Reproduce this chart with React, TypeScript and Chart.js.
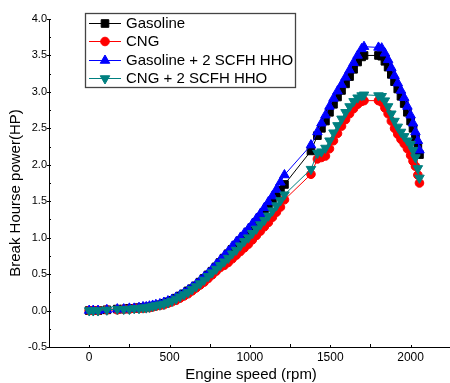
import React, { useEffect, useRef } from "react";
import { Chart, registerables } from "chart.js";

Chart.register(...registerables);

const FONT = "'Liberation Sans', Arial, Helvetica, sans-serif";

const rpm = [0, 25, 55, 110, 175, 215, 250, 280, 310, 335, 355, 375, 395, 415, 440, 465, 490, 515, 540, 565, 590, 615, 640, 665, 690, 715, 740, 765, 790, 815, 840, 865, 890, 915, 940, 965, 990, 1015, 1040, 1065, 1090, 1115, 1140, 1165, 1190, 1215, 1380, 1420, 1445, 1470, 1495, 1520, 1545, 1570, 1595, 1620, 1645, 1670, 1695, 1710, 1800, 1820, 1840, 1860, 1880, 1900, 1920, 1940, 1960, 1980, 2000, 2015, 2030, 2045, 2055];

const gasoline = [0, 0, 0, 0.01, 0.02, 0.02, 0.03, 0.03, 0.04, 0.04, 0.05, 0.05, 0.06, 0.07, 0.08, 0.10, 0.12, 0.14, 0.17, 0.20, 0.23, 0.27, 0.30, 0.34, 0.39, 0.44, 0.49, 0.54, 0.60, 0.66, 0.72, 0.78, 0.84, 0.90, 0.96, 1.02, 1.08, 1.14, 1.21, 1.28, 1.35, 1.42, 1.50, 1.58, 1.65, 1.73, 2.19, 2.40, 2.50, 2.60, 2.72, 2.83, 2.93, 3.02, 3.11, 3.21, 3.31, 3.41, 3.48, 3.50, 3.50, 3.49, 3.42, 3.34, 3.24, 3.14, 3.04, 2.94, 2.84, 2.72, 2.60, 2.50, 2.38, 2.26, 2.14];

const cng = [0, 0, 0, 0.01, 0.01, 0.02, 0.02, 0.03, 0.03, 0.03, 0.04, 0.04, 0.05, 0.06, 0.07, 0.08, 0.10, 0.12, 0.14, 0.17, 0.20, 0.23, 0.27, 0.31, 0.35, 0.39, 0.44, 0.49, 0.54, 0.59, 0.62, 0.66, 0.71, 0.76, 0.81, 0.86, 0.91, 0.97, 1.03, 1.09, 1.15, 1.21, 1.28, 1.35, 1.42, 1.52, 1.87, 2.08, 2.10, 2.12, 2.22, 2.33, 2.43, 2.53, 2.62, 2.70, 2.77, 2.83, 2.87, 2.88, 2.88, 2.86, 2.78, 2.70, 2.60, 2.50, 2.42, 2.35, 2.29, 2.22, 2.13, 2.05, 1.98, 1.86, 1.75];

const gasolineHHO = [0, 0, 0, 0.01, 0.02, 0.02, 0.03, 0.03, 0.04, 0.05, 0.05, 0.06, 0.07, 0.08, 0.09, 0.11, 0.13, 0.15, 0.18, 0.21, 0.24, 0.28, 0.32, 0.36, 0.41, 0.46, 0.51, 0.57, 0.63, 0.69, 0.75, 0.81, 0.88, 0.94, 1.00, 1.06, 1.12, 1.19, 1.26, 1.33, 1.41, 1.49, 1.57, 1.66, 1.76, 1.86, 2.27, 2.45, 2.57, 2.68, 2.80, 2.91, 3.01, 3.10, 3.20, 3.30, 3.40, 3.50, 3.59, 3.62, 3.61, 3.60, 3.53, 3.44, 3.33, 3.22, 3.12, 3.02, 2.92, 2.80, 2.68, 2.57, 2.45, 2.33, 2.20];

const cngHHO = [0, 0, 0, 0.01, 0.02, 0.02, 0.02, 0.03, 0.03, 0.04, 0.04, 0.05, 0.06, 0.07, 0.08, 0.09, 0.11, 0.13, 0.16, 0.19, 0.22, 0.25, 0.29, 0.33, 0.37, 0.42, 0.47, 0.52, 0.57, 0.62, 0.67, 0.72, 0.78, 0.83, 0.89, 0.95, 1.00, 1.06, 1.12, 1.18, 1.24, 1.30, 1.37, 1.44, 1.51, 1.59, 1.94, 2.16, 2.18, 2.23, 2.33, 2.44, 2.54, 2.63, 2.72, 2.80, 2.87, 2.92, 2.95, 2.96, 2.95, 2.94, 2.88, 2.80, 2.70, 2.60, 2.52, 2.45, 2.39, 2.33, 2.28, 2.20, 2.10, 1.95, 1.82];

const seriesLabels = ["Gasoline", "CNG", "Gasoline + 2 SCFH HHO", "CNG + 2 SCFH HHO"];
const seriesColors = ["#000000", "#FF0000", "#0000FF", "#008080"];
const seriesMarkers = ["rect", "circle", "triangle", "triangleDown"];
const seriesValues = [gasoline, cng, gasolineHHO, cngHHO];

const xTicks = [0, 500, 1000, 1500, 2000];
const yTicks = [-0.5, 0.0, 0.5, 1.0, 1.5, 2.0, 2.5, 3.0, 3.5, 4.0];
const xTitle = "Engine speed (rpm)";
const yTitle = "Break Hourse power(HP)";

function drawMarker(ctx: CanvasRenderingContext2D, kind: string, x: number, y: number, color: string) {
  ctx.save();
  ctx.fillStyle = color;
  ctx.strokeStyle = color;
  ctx.lineWidth = 1;
  ctx.beginPath();
  if (kind === "rect") {
    ctx.rect(x - 3.8, y - 3.8, 7.6, 7.6);
  } else if (kind === "circle") {
    ctx.arc(x, y, 4.3, 0, Math.PI * 2);
  } else if (kind === "triangle") {
    ctx.moveTo(x, y - 5.5);
    ctx.lineTo(x + 4.76, y + 2.75);
    ctx.lineTo(x - 4.76, y + 2.75);
    ctx.closePath();
  } else {
    ctx.moveTo(x, y + 5.5);
    ctx.lineTo(x + 4.76, y - 2.75);
    ctx.lineTo(x - 4.76, y - 2.75);
    ctx.closePath();
  }
  ctx.fill();
  ctx.stroke();
  ctx.restore();
}

const decorPlugin = {
  id: "decor",
  afterDraw(chart: any) {
    const ctx: CanvasRenderingContext2D = chart.ctx;
    const xs = chart.scales.x;
    const ys = chart.scales.y;
    const area = chart.chartArea;
    ctx.save();
    ctx.strokeStyle = "#000";
    ctx.lineWidth = 1;
    ctx.beginPath();
    for (let i = 0; i < yTicks.length; i++) {
      const py = Math.round(ys.getPixelForValue(yTicks[i])) + 0.5;
      ctx.moveTo(area.left - 2, py);
      ctx.lineTo(area.left + 2, py);
      if (i < yTicks.length - 1) {
        const my = Math.round(ys.getPixelForValue((yTicks[i] + yTicks[i + 1]) / 2)) + 0.5;
        ctx.moveTo(area.left, my);
        ctx.lineTo(area.left + 2, my);
      }
    }
    for (let i = 0; i < xTicks.length; i++) {
      const px = Math.round(xs.getPixelForValue(xTicks[i])) + 0.5;
      ctx.moveTo(px, area.bottom);
      ctx.lineTo(px, area.bottom - 2);
      const mv = xTicks[i] + 250;
      const mx = Math.round(xs.getPixelForValue(mv)) + 0.5;
      if (mx < area.right) {
        ctx.moveTo(mx, area.bottom);
        ctx.lineTo(mx, area.bottom - 3);
      }
    }
    ctx.stroke();

    ctx.fillStyle = "#000";
    ctx.font = `15px ${FONT}`;
    ctx.textAlign = "center";
    ctx.textBaseline = "middle";
    ctx.fillText(xTitle, 251, 375);
    ctx.save();
    ctx.translate(16, 193);
    ctx.rotate(-Math.PI / 2);
    ctx.fillText(yTitle, 0, 0);
    ctx.restore();

    ctx.fillStyle = "#fff";
    ctx.fillRect(85.5, 13.5, 210, 74);
    ctx.strokeStyle = "#444";
    ctx.lineWidth = 1.3;
    ctx.strokeRect(85.5, 13.5, 210, 74);
    const rowsY = [23, 41, 60, 78];
    ctx.textAlign = "left";
    ctx.font = `15px ${FONT}`;
    for (let i = 0; i < seriesLabels.length; i++) {
      const y = rowsY[i];
      ctx.strokeStyle = seriesColors[i];
      ctx.lineWidth = 1;
      ctx.beginPath();
      ctx.moveTo(89, y + 0.5);
      ctx.lineTo(121, y + 0.5);
      ctx.stroke();
      drawMarker(ctx, seriesMarkers[i], 105, y + 0.5, seriesColors[i]);
      ctx.fillStyle = "#000";
      ctx.fillText(seriesLabels[i], 126, y + 1);
    }
    ctx.restore();
  },
};

export default function App() {
  const canvasRef = useRef<HTMLCanvasElement | null>(null);

  useEffect(() => {
    const canvas = canvasRef.current;
    if (!canvas) return;
    Chart.defaults.font.family = FONT;
    const order = [3, 2, 1, 0];
    const datasets = seriesLabels.map((label, i) => {
      const kind = seriesMarkers[i];
      const pointStyle = kind === "rect" ? "rect" : kind === "circle" ? "circle" : "triangle";
      const radius = kind === "rect" ? 5.4 : kind === "circle" ? 4.3 : 5.5;
      return {
        label,
        data: rpm.map((x, j) => ({ x, y: seriesValues[i][j] })),
        borderColor: seriesColors[i],
        backgroundColor: seriesColors[i],
        borderWidth: 1,
        pointStyle,
        pointRadius: radius,
        pointRotation: kind === "triangleDown" ? 180 : 0,
        pointBackgroundColor: seriesColors[i],
        pointBorderColor: seriesColors[i],
        pointBorderWidth: 1,
        showLine: true,
        tension: 0,
        order: order[i],
      };
    });

    const chart = new Chart(canvas, {
      type: "line",
      data: { datasets },
      options: {
        animation: false,
        responsive: false,
        devicePixelRatio: 1,
        layout: { autoPadding: false, padding: { top: 19, left: 0, right: 0, bottom: 0 } },
        plugins: { legend: { display: false }, tooltip: { enabled: false } },
        scales: {
          x: {
            type: "linear",
            min: -250,
            max: 2245,
            grid: { display: false, drawTicks: false },
            border: { display: true, color: "#000", width: 1 },
            afterBuildTicks: (s: any) => {
              s.ticks = xTicks.map((v) => ({ value: v }));
            },
            afterFit: (s: any) => {
              s.height = 36;
              s.paddingLeft = 0;
              s.paddingRight = 0;
            },
            ticks: {
              color: "#000",
              font: { size: 12, family: FONT },
              padding: 3,
              maxRotation: 0,
              autoSkip: false,
              callback: (v: any) => String(v),
            },
          },
          y: {
            type: "linear",
            min: -0.5,
            max: 4.0,
            grid: { display: false, drawTicks: false },
            border: { display: true, color: "#000", width: 1 },
            afterBuildTicks: (s: any) => {
              s.ticks = yTicks.map((v) => ({ value: v }));
            },
            afterFit: (s: any) => {
              s.width = 49;
              s.paddingTop = 0;
              s.paddingBottom = 0;
            },
            ticks: {
              color: "#000",
              font: { size: 11, family: FONT },
              padding: 2,
              autoSkip: false,
              callback: (v: any) => Number(v).toFixed(1),
            },
          },
        },
      },
      plugins: [decorPlugin],
    } as any);

    return () => {
      chart.destroy();
    };
  }, []);

  return (
    <div style={{ position: "absolute", left: 0, top: 0, width: 450, height: 383, background: "#fff" }}>
      <canvas ref={canvasRef} width={450} height={383} style={{ display: "block", width: 450, height: 383 }} />
    </div>
  );
}
